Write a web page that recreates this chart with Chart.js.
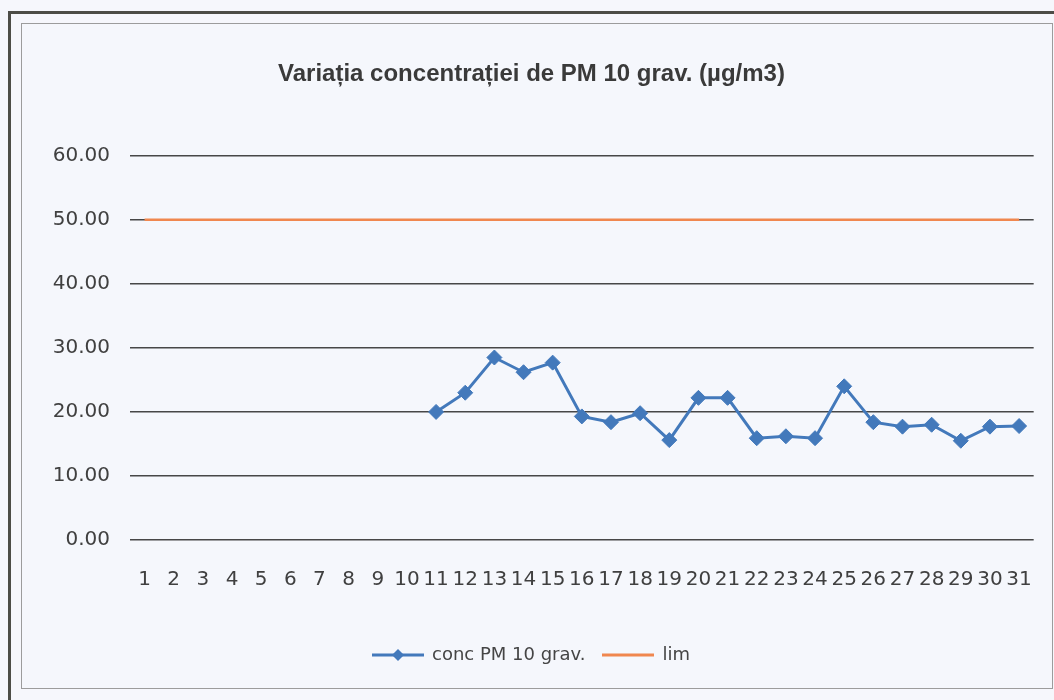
<!DOCTYPE html>
<html>
<head>
<meta charset="utf-8">
<title>Variatia concentratiei de PM 10 grav.</title>
<script src="https://cdn.jsdelivr.net/npm/chart.js@4.4.1/dist/chart.umd.min.js"></script>
<style>
    html, body {
        margin: 0;
        padding: 0;
        background: #f6f7fc;
        width: 1054px;
        height: 700px;
        overflow: hidden;
    }
    #outerFrame {
        position: absolute;
        left: 8px;
        top: 11px;
        width: 1200px;
        height: 1200px;
        border-left: 3px solid #4d4d47;
        border-top: 3px solid #4d4d47;
    }
    #chartBox {
        position: absolute;
        left: 21px;
        top: 23px;
        width: 1030px;
        height: 664px;
        border: 1px solid #9c9c9c;
        background: #f5f7fc;
    }
    canvas {
        display: block;
    }
</style>
</head>
<body>
<div id="outerFrame"></div>
<div id="chartBox">
    <canvas id="pmChart" width="1030" height="664"></canvas>
</div>
<script>
// Days of the month
const days = ['1', '2', '3', '4', '5', '6', '7', '8', '9', '10',
    '11', '12', '13', '14', '15', '16', '17', '18', '19', '20',
    '21', '22', '23', '24', '25', '26', '27', '28', '29', '30', '31'];

// PM10 gravimetric concentration (µg/m3), no data for days 1-10
const concPM10 = [null, null, null, null, null, null, null, null, null, null,
    20.0, 23.0, 28.5, 26.2, 27.7, 19.3, 18.4, 19.8, 15.6, 22.2,
    22.2, 15.9, 16.2, 15.9, 24.0, 18.4, 17.7, 18.0, 15.5, 17.7, 17.8];

// Daily limit value
const limValues = [50, 50, 50, 50, 50, 50, 50, 50, 50, 50,
    50, 50, 50, 50, 50, 50, 50, 50, 50, 50,
    50, 50, 50, 50, 50, 50, 50, 50, 50, 50, 50];

const yTicks = [0, 10, 20, 30, 40, 50, 60];

const blue = '#4379bb';
const orange = '#f0874f';

// Legend icons: line with diamond, plain line
const makeIcon = (color, withDiamond) => {
    const c = document.createElement('canvas');
    c.width = 52;
    c.height = 16;
    const g = c.getContext('2d');
    g.strokeStyle = color;
    g.lineWidth = 3;
    g.beginPath();
    g.moveTo(0, 8);
    g.lineTo(52, 8);
    g.stroke();
    if (withDiamond) {
        g.fillStyle = color;
        g.beginPath();
        g.moveTo(26, 2);
        g.lineTo(32, 8);
        g.lineTo(26, 14);
        g.lineTo(20, 8);
        g.closePath();
        g.fill();
    }
    return c;
};
const legendIcons = [makeIcon(blue, true), makeIcon(orange, false)];

const ctx = document.getElementById('pmChart').getContext('2d');
const pmChart = new Chart(ctx, {
    type: 'line',
    data: {
        labels: days,
        datasets: [{
            label: 'conc PM 10 grav.',
            data: concPM10,
            borderColor: blue,
            backgroundColor: blue,
            borderWidth: 3,
            pointStyle: 'rectRot',
            pointRadius: 7.5,
            pointBorderWidth: 1,
            pointBackgroundColor: blue,
            pointBorderColor: blue,
            tension: 0
        }, {
            label: 'lim',
            data: limValues,
            borderColor: orange,
            backgroundColor: orange,
            borderWidth: 2.5,
            pointRadius: 0,
            tension: 0
        }]
    },
    options: {
        responsive: false,
        animation: false,
        layout: {
            padding: { left: 0, right: 11, top: 0, bottom: 14 }
        },
        plugins: {
            title: {
                display: true,
                text: 'Variația concentrației de PM 10 grav. (µg/m3)',
                color: '#3a3a3a',
                font: { family: 'Liberation Sans', size: 24, weight: 'bold' },
                padding: { top: 36, bottom: 67 }
            },
            legend: {
                position: 'bottom',
                labels: {
                    color: '#454545',
                    font: { family: 'DejaVu Sans', size: 18 },
                    usePointStyle: true,
                    pointStyleWidth: 50,
                    padding: 18,
                    generateLabels: (chart) => {
                        const items = Chart.defaults.plugins.legend.labels.generateLabels(chart);
                        items.forEach((item, i) => {
                            item.pointStyle = legendIcons[i];
                        });
                        return items;
                    }
                }
            },
            tooltip: { enabled: false }
        },
        scales: {
            x: {
                offset: true,
                grid: { display: false },
                border: { display: false },
                ticks: {
                    color: '#404040',
                    font: { family: 'DejaVu Sans', size: 20 },
                    autoSkip: false,
                    maxRotation: 0,
                    padding: 20
                },
                afterFit: (scale) => { scale.height = 88; }
            },
            y: {
                min: 0,
                max: 60,
                afterBuildTicks: (scale) => {
                    scale.ticks = yTicks.map(v => ({ value: v }));
                },
                grid: {
                    color: '#474747',
                    lineWidth: 1.4,
                    drawTicks: false
                },
                border: { display: false },
                ticks: {
                    color: '#404040',
                    font: { family: 'DejaVu Sans', size: 20 },
                    padding: 20,
                    callback: (value) => value.toFixed(2)
                },
                afterFit: (scale) => { scale.width = 108; }
            }
        }
    }
});
</script>
</body>
</html>
